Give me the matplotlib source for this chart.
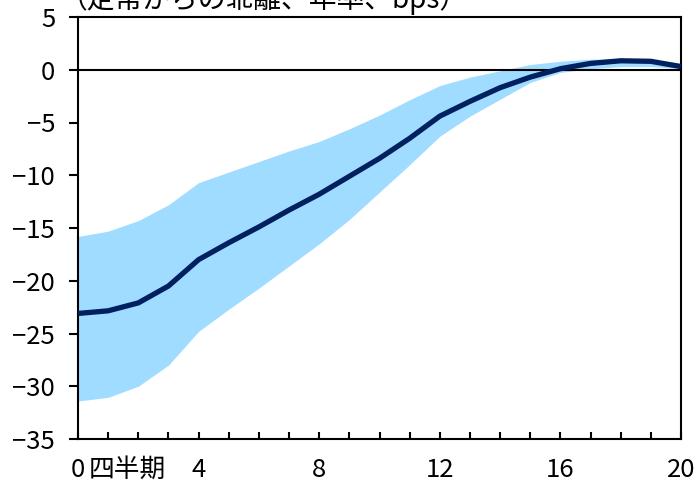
import matplotlib
matplotlib.use("Agg")
import matplotlib.pyplot as plt
import numpy as np

plt.rcParams['font.family'] = ['Noto Sans CJK JP', 'DejaVu Sans']

# Quarters after the shock
quarters = list(range(0, 21))

# Median response (deviation from steady state, annualized, bps)
median = [-23.1, -22.85, -22.1, -20.5, -18.0, -16.4, -14.9, -13.3, -11.8, -10.1,
          -8.4, -6.5, -4.4, -3.0, -1.7, -0.7, 0.1, 0.6, 0.85, 0.8, 0.3]
# Credible band
upper = [-15.8, -15.3, -14.3, -12.8, -10.7, -9.7, -8.7, -7.7, -6.8, -5.6,
         -4.3, -2.85, -1.5, -0.7, -0.1, 0.5, 0.8, 1.0, 1.05, 1.0, 0.6]
lower = [-31.4, -31.05, -30.0, -28.0, -24.8, -22.7, -20.7, -18.6, -16.5, -14.2,
         -11.6, -9.0, -6.3, -4.4, -2.8, -1.2, -0.25, 0.1, 0.3, 0.3, 0.1]

yticks = [5, 0, -5, -10, -15, -20, -25, -30, -35]
xlabel_ticks = [0, 4, 8, 12, 16, 20]

FS = 18.5

W, H = 697, 483
fig = plt.figure(figsize=(W / 100, H / 100), dpi=100)
ax = fig.add_axes([78 / W, 1 - 439 / H, (681 - 78) / W, (439 - 17) / H])

ax.fill_between(quarters, lower, upper, color='#A0DCFF', linewidth=0, zorder=1)
ax.axhline(0, color='black', linewidth=1.5, zorder=2)
ax.plot(quarters, median, color='#002060', linewidth=3.8, zorder=3,
        solid_joinstyle='round', solid_capstyle='butt')

ax.set_xlim(0, 20)
ax.set_ylim(-35, 5)

ax.set_yticks(yticks)
ax.set_yticklabels([str(v).replace('-', '\u2212') for v in yticks])
ax.set_xticks(quarters)
ax.set_xticklabels([str(q) if q in xlabel_ticks else '' for q in quarters])

ax.tick_params(axis='y', direction='out', length=6.5, width=1.5, labelsize=FS,
               pad=10)
ax.tick_params(axis='x', direction='in', length=5, width=1.5, labelsize=FS,
               pad=13)
for s in ax.spines.values():
    s.set_linewidth(1.5)
    s.set_color('black')

# Unit label next to the first x tick
ax.annotate('四半期', xy=(0, 0), xycoords=('data', 'axes fraction'),
            xytext=(8, -13), textcoords='offset points',
            ha='left', va='top', fontsize=FS)

fig.text(60 / W, 1 - 8 / H, '（定常からの乖離、年率、bps）', ha='left',
         va='baseline', fontsize=20)

fig.savefig('out.png', dpi=100)
